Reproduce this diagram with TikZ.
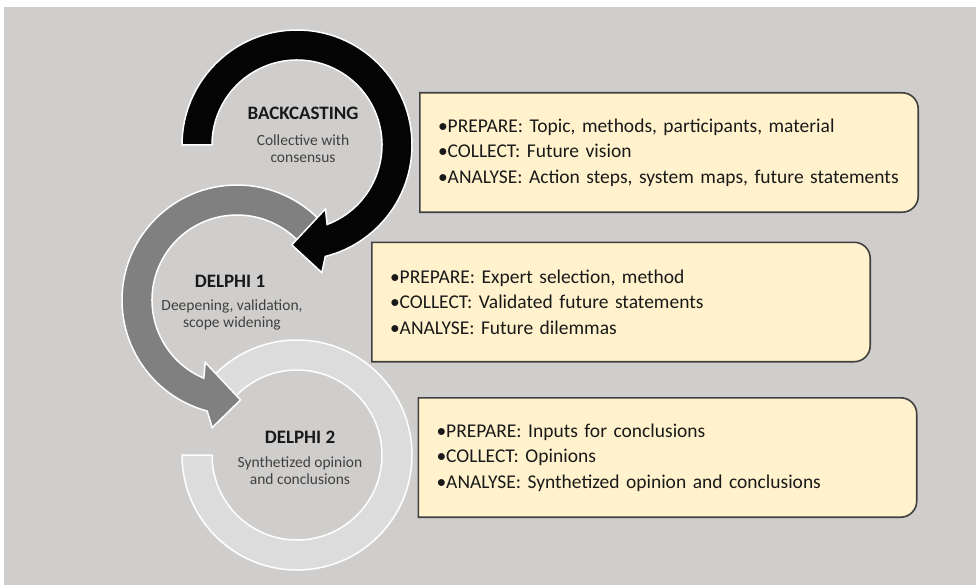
\documentclass[tikz,border=0pt]{standalone}
\usepackage{fontspec}
\setmainfont{Carlito}
\usetikzlibrary{calc, backgrounds}

\definecolor{backdrop}{RGB}{208,206,204}
\definecolor{ringdark}{RGB}{4,4,4}
\definecolor{ringmid}{RGB}{128,128,128}
\definecolor{ringlight}{RGB}{220,220,220}
\definecolor{boxfill}{RGB}{255,242,204}
\definecolor{boxline}{RGB}{64,64,64}

\begin{document}
\begin{tikzpicture}[
x=1pt, y=1pt,
ring/.style={draw=white, line width=1.5pt},
title/.style={inner sep=0pt, font=\bfseries\fontsize{19}{21}\selectfont, text=black!90},
note/.style={inner sep=0pt, align=center, font=\fontsize{15.5}{17}\selectfont, text=black!75},
infobox/.style={inner xsep=18pt, inner ysep=0pt, text width=462pt, minimum height=119pt, align=left, font=\fontsize{19.5}{25.5}\selectfont, text=black!90},
frame/.style={fill=boxfill, draw=boxline, line width=1.6pt}
]

\useasboundingbox (0,0) rectangle (976,-588);
\begin{scope}[on background layer]
\fill[white] (0,0) rectangle (976,-588);
\fill[backdrop] (4,-7) rectangle (976,-585);
\end{scope}

\coordinate (bc) at (297,-145);
\coordinate (d1) at (237,-300);
\coordinate (d2) at (297,-455);

% rings, last one first
\filldraw[ring, fill=ringlight] ($(d2)+(180:115)$) arc[start angle=180, end angle=500, radius=115]
  -- ($(d2)+(500:85)$) arc[start angle=500, end angle=180, radius=85] -- cycle;

\filldraw[ring, fill=ringmid] ($(d1)+(43:115)$) arc[start angle=43, end angle=255, radius=115]
  -- ($(d1)+(259:130)$) -- ($(d1)+(272:100)$) -- ($(d1)+(243:70)$)
  -- ($(d1)+(247:85)$) arc[start angle=247, end angle=43, radius=85] -- cycle;

\filldraw[ring, fill=ringdark] ($(bc)+(180:115)$) arc[start angle=180, end angle=-75.75, radius=115]
  -- ($(bc)+(-79:130)$) -- ($(bc)+(-93:100)$) -- ($(bc)+(-66:70)$)
  -- ($(bc)+(-69.25:85)$) arc[start angle=-69.25, end angle=180, radius=85] -- cycle;

\node[title] (bctitle) at (303,-113) {BACKCASTING};
\node[note] (bcnote) at (303,-148.5) {Collective with\\consensus};
\node[title] (d1title) at (230,-281) {DELPHI 1};
\node[note] (d1note) at (232,-314.5) {Deepening, validation,\\scope widening};
\node[title] (d2title) at (300,-437) {DELPHI 2};
\node[note] (d2note) at (300,-471) {Synthetized opinion\\and conclusions};

\node[infobox] (bcinfo) at (669,-152.5) {•PREPARE: Topic, methods, participants, material\\•COLLECT: Future vision\\•ANALYSE: Action steps, system maps, future statements};
\node[infobox] (d1info) at (621,-302) {•PREPARE: Expert selection, method\\•COLLECT: Validated future statements\\•ANALYSE: Future dilemmas};
\node[infobox] (d2info) at (667.5,-457.5) {•PREPARE: Inputs for conclusions\\•COLLECT: Opinions\\•ANALYSE: Synthetized opinion and conclusions};

\begin{scope}[on background layer]
\foreach \n in {bcinfo, d1info, d2info}
  \draw[frame] (\n.south west) -- (\n.north west) -- ($(\n.north east)+(-16,0)$)
    arc[start angle=90, end angle=0, radius=16] -- ($(\n.south east)+(0,16)$)
    arc[start angle=0, end angle=-90, radius=16] -- cycle;
\end{scope}

\end{tikzpicture}
\end{document}
